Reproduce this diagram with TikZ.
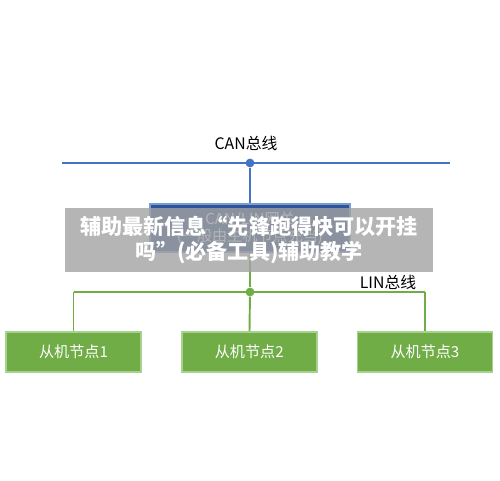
\documentclass[tikz,border=0pt]{standalone}
\usepackage{fontspec}
\setmainfont{Noto Sans CJK SC}
\usetikzlibrary{positioning}
\definecolor{canblue}{HTML}{4472C4}
\definecolor{gwblue}{HTML}{2F5597}
\definecolor{lingreen}{HTML}{70AD47}
\definecolor{slaveedge}{HTML}{A9D18E}
\definecolor{bannergray}{HTML}{A2A2A2}

\begin{document}
\begin{tikzpicture}[
    x=0.02cm, y=-0.02cm,
    font=\fontsize{8.6}{10}\selectfont,
    % Node styles:
    gateway/.style={rectangle, draw=canblue!70, line width=1pt, fill=gwblue,
                    text=white, align=center, minimum width=4cm, minimum height=0.95cm},
    slave/.style={rectangle, draw=slaveedge, line width=1pt, fill=lingreen,
                  text=white, minimum width=2.7cm, minimum height=0.8cm},
    buslabel/.style={font=\fontsize{9}{10}\selectfont},
    % Line styles:
    canbus/.style={canblue, line width=1.6pt},
    linbus/.style={lingreen, line width=1.1pt},
    dot/.style={circle, fill, inner sep=0pt, minimum size=5pt},
]
\useasboundingbox (0,0) rectangle (500,480);

% --- BUSES ---
\coordinate (canL) at (62,163);
\coordinate (canR) at (450,163);
\coordinate (linL) at (73,292);
\coordinate (linR) at (426,292);
\node[buslabel] (canlabel) at (246,143) {CAN总线};
\node[buslabel] (linlabel) at (388,282) {LIN总线};

% --- NODES ---
\node[gateway] (gw) at (250,228) {CAN/LIN网关\\(一般由主机节点充当)};
\node[slave] (s1) at (73.5,352) {从机节点1};
\node[slave, right=0.78cm of s1] (s2) {从机节点2};
\node[slave, right=0.78cm of s2] (s3) {从机节点3};

\node[dot, canblue] (canj) at (250,163) {};
\node[dot, lingreen] (linj) at (250,292) {};

% --- LINES ---
\draw[canbus] (canL) -- (canR);
\draw[canbus] (canj) -- (gw);
\draw[linbus] (gw) -- (linj);
\draw[linbus] (s1.north |- linL) coordinate (t1) -- (s3.north |- linR) coordinate (t3);
\draw[linbus] (t1) -- (s1);
\draw[linbus] (linj) -- (s2);
\draw[linbus] (t3) -- (s3);

% overlay banner across the gateway
\node[fill=bannergray, fill opacity=0.8, text opacity=1, text=white,
      minimum width=7.36cm, minimum height=1.3cm, align=center,
      font=\fontsize{12}{14}\selectfont\bfseries] (banner) at (249,240)
      {辅助最新信息“先锋跑得快可以开挂\\吗”(必备工具)辅助教学};

\end{tikzpicture}
\end{document}
